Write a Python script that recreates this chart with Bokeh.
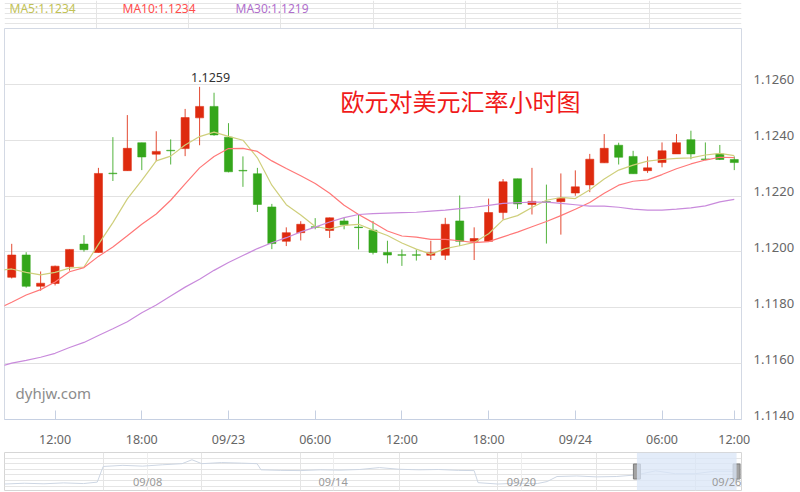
import numpy as np
from bokeh.plotting import figure
from bokeh.models import Range1d, FixedTicker, Label, BoxAnnotation, Grid
from bokeh.layouts import column
from bokeh.embed import file_html
from bokeh.resources import INLINE

# ---------------- data ----------------
tick_idx = [3, 9, 15, 21, 27, 33, 39, 45, 50]
tick_labels = ["12:00", "18:00", "09/23", "06:00", "12:00", "18:00", "09/24", "06:00", "12:00"]
y_ticks = [1.1140, 1.1160, 1.1180, 1.1200, 1.1220, 1.1240, 1.1260]
y_tick_labels = ["1.1140", "1.1160", "1.1180", "1.1200", "1.1220", "1.1240", "1.1260"]

opens = [1.11909, 1.11989, 1.11877, 1.11887, 1.11947, 1.12028, 1.11998, 1.12282, 1.12291, 1.12391,
         1.12350, 1.12364, 1.12370, 1.12480, 1.12521, 1.12411, 1.12292, 1.12280, 1.12161, 1.12038,
         1.12069, 1.12090, 1.12077, 1.12111, 1.12089, 1.12078, 1.11998, 1.11990, 1.11990, 1.11988,
         1.11988, 1.12111, 1.12038, 1.12038, 1.12141, 1.12262, 1.12170, 1.12180, 1.12180, 1.12211,
         1.12240, 1.12319, 1.12382, 1.12342, 1.12291, 1.12320, 1.12351, 1.12402, 1.12333, 1.12351,
         1.12331]
highs = [1.12029, 1.11999, 1.11930, 1.11951, 1.12009, 1.12060, 1.12301, 1.12411, 1.12490, 1.12391,
         1.12432, 1.12403, 1.12512, 1.12591, 1.12570, 1.12461, 1.12342, 1.12301, 1.12172, 1.12088,
         1.12110, 1.12121, 1.12123, 1.12122, 1.12134, 1.12111, 1.12040, 1.12009, 1.12009, 1.12040,
         1.12122, 1.12202, 1.12088, 1.12191, 1.12261, 1.12262, 1.12301, 1.12241, 1.12281, 1.12292,
         1.12351, 1.12422, 1.12391, 1.12362, 1.12342, 1.12392, 1.12422, 1.12434, 1.12392, 1.12383,
         1.12342]
lows = [1.11905, 1.11872, 1.11861, 1.11880, 1.11933, 1.12001, 1.11998, 1.12254, 1.12291, 1.12293,
        1.12325, 1.12313, 1.12343, 1.12382, 1.12416, 1.12285, 1.12233, 1.12143, 1.12010, 1.12021,
        1.12041, 1.12081, 1.12050, 1.12081, 1.12009, 1.11991, 1.11959, 1.11950, 1.11969, 1.11971,
        1.11971, 1.12021, 1.11971, 1.12038, 1.12116, 1.12154, 1.12134, 1.12030, 1.12062, 1.12201,
        1.12214, 1.12319, 1.12313, 1.12280, 1.12283, 1.12303, 1.12351, 1.12332, 1.12329, 1.12329,
        1.12293]
closes = [1.11989, 1.11877, 1.11888, 1.11949, 1.12009, 1.12008, 1.12281, 1.12280, 1.12371, 1.12340,
          1.12360, 1.12362, 1.12481, 1.12521, 1.12419, 1.12287, 1.12290, 1.12170, 1.12030, 1.12069,
          1.12099, 1.12088, 1.12122, 1.12097, 1.12087, 1.11998, 1.11989, 1.11988, 1.11988, 1.11997,
          1.12099, 1.12038, 1.12048, 1.12141, 1.12251, 1.12172, 1.12181, 1.12178, 1.12192, 1.12233,
          1.12332, 1.12371, 1.12339, 1.12280, 1.12301, 1.12362, 1.12391, 1.12351, 1.12331, 1.12331,
          1.12320]

# moving-average lines (first value = hour before the visible window)
ma_idx = list(range(-1, 51))
ma5 = [1.11933, 1.11939, 1.11927, 1.11918, 1.11927, 1.11942, 1.11946, 1.12027, 1.12105, 1.12190,
       1.12256, 1.12326, 1.12343, 1.12383, 1.12413, 1.12429, 1.12414, 1.12400, 1.12337, 1.12239,
       1.12169, 1.12132, 1.12091, 1.12082, 1.12095, 1.12099, 1.12078, 1.12059, 1.12032, 1.12010,
       1.11992, 1.12012, 1.12022, 1.12034, 1.12065, 1.12115, 1.12130, 1.12159, 1.12185, 1.12195,
       1.12191, 1.12223, 1.12261, 1.12293, 1.12311, 1.12325, 1.12331, 1.12335, 1.12337, 1.12347,
       1.12353, 1.12345]
ma10 = [1.11795, 1.11820, 1.11846, 1.11865, 1.11892, 1.11929, 1.11944, 1.11984, 1.12018, 1.12058,
        1.12099, 1.12136, 1.12185, 1.12244, 1.12301, 1.12342, 1.12370, 1.12371, 1.12360, 1.12326,
        1.12299, 1.12273, 1.12245, 1.12210, 1.12167, 1.12134, 1.12105, 1.12075, 1.12057, 1.12053,
        1.12045, 1.12045, 1.12040, 1.12033, 1.12037, 1.12054, 1.12071, 1.12090, 1.12109, 1.12130,
        1.12153, 1.12177, 1.12210, 1.12239, 1.12253, 1.12258, 1.12277, 1.12298, 1.12315, 1.12329,
        1.12339, 1.12338]
ma30 = [1.11587, 1.11602, 1.11612, 1.11623, 1.11637, 1.11658, 1.11676, 1.11701, 1.11725, 1.11750,
        1.11782, 1.11810, 1.11842, 1.11874, 1.11902, 1.11934, 1.11962, 1.11987, 1.12012, 1.12033,
        1.12051, 1.12072, 1.12089, 1.12107, 1.12123, 1.12134, 1.12137, 1.12139, 1.12141, 1.12142,
        1.12146, 1.12150, 1.12155, 1.12160, 1.12167, 1.12174, 1.12176, 1.12178, 1.12178, 1.12174,
        1.12169, 1.12164, 1.12164, 1.12160, 1.12153, 1.12150, 1.12150, 1.12153, 1.12158, 1.12165,
        1.12179, 1.12188]
legend_labels = ["MA5:1.1234", "MA10:1.1234", "MA30:1.1219"]

chart_title = "欧元对美元汇率小时图"
watermark = "dyhjw.com"

# overview (data-zoom strip): hourly index of the whole history and closes sampled along it
ov_idx = [0, 10, 20, 30, 40, 47, 50, 60, 70, 80, 90, 95, 100, 110, 120, 128, 130, 140, 150, 160,
          170, 180, 190, 200, 210, 220, 230, 238, 240, 250, 260, 270, 275, 280, 290, 300, 310, 320,
          330, 340, 350, 360, 370]
ov_close = [1.1118, 1.1125, 1.1120, 1.1128, 1.1122, 1.1135, 1.1275, 1.1285, 1.1278, 1.1290,
            1.1300, 1.1335, 1.1300, 1.1310, 1.1305, 1.1300, 1.1245, 1.1240, 1.1238, 1.1245,
            1.1242, 1.1248, 1.1265, 1.1250, 1.1245, 1.1248, 1.1240, 1.1238, 1.1130, 1.1118,
            1.1125, 1.1122, 1.1140, 1.1185, 1.1190, 1.1182, 1.1185, 1.1199, 1.1236, 1.1210,
            1.1210, 1.1233, 1.1232]
ov_dates_idx = [72.5, 166.5, 262, 366]
ov_dates = ["09/08", "09/14", "09/20", "09/26"]
win_start, win_end = 320.5, 371

RED, GREEN = "#de2a0e", "#34a61b"
C5, C10, C30 = "#cfcf7c", "#ff7878", "#c98bdc"
FONT = "Noto Sans"

# ---------------- legend strip ----------------
lg = figure(width=800, height=28, x_range=Range1d(0, 800), y_range=Range1d(0, 28),
            output_backend="svg", toolbar_location=None, title=None,
            x_axis_location=None, y_axis_location=None,
            min_border_left=0, min_border_right=0, min_border_top=0, min_border_bottom=0)
lg.outline_line_color = None
for lx, txt, col in zip([5, 118, 231], legend_labels, ["#c2c256", "#ff4d4d", "#b06fcc"]):
    lg.add_layout(Label(x=lx, y=20, x_units="screen", y_units="screen", text=txt,
                        text_baseline="middle", text_font=FONT, text_font_size="12px",
                        text_color=col))

# ---------------- main chart ----------------
idx = np.arange(len(opens))
o = np.array(opens); c = np.array(closes)
up = c > o
colors = [RED if u else GREEN for u in up]

p = figure(width=800, height=422, x_range=Range1d(-0.5, 50.5), y_range=Range1d(1.1140, 1.1280),
           output_backend="svg", toolbar_location=None, title=None, y_axis_location="right",
           min_border_left=4, min_border_right=59, min_border_top=0, min_border_bottom=26)
p.background_fill_color = "white"
p.border_fill_color = "white"
p.outline_line_color = "#d3d9e4"
p.xgrid.visible = False
p.ygrid.ticker = FixedTicker(ticks=y_ticks)
p.ygrid.grid_line_color = "#e2e2e2"

p.xaxis.ticker = FixedTicker(ticks=tick_idx)
p.xaxis.major_label_overrides = dict(zip(tick_idx, tick_labels))
p.xaxis.axis_line_color = "#c6d0e2"
p.xaxis.major_tick_line_color = "#c6d0e2"
p.xaxis.major_tick_in = 9
p.xaxis.major_tick_out = 0
p.xaxis.minor_tick_line_color = None
p.xaxis.major_label_standoff = 11
p.xaxis.major_label_text_font = FONT
p.xaxis.major_label_text_font_size = "12.5px"
p.xaxis.major_label_text_color = "#666666"

# price labels sit a few pixels above their grid lines, as in the original
label_lift = 0.00016
lifted = [round(t + label_lift, 6) for t in y_ticks]
p.yaxis.ticker = FixedTicker(ticks=lifted)
p.yaxis.major_label_overrides = dict(zip(lifted, y_tick_labels))
p.yaxis.axis_line_color = None
p.yaxis.major_tick_line_color = None
p.yaxis.minor_tick_line_color = None
p.yaxis.major_tick_in = 0
p.yaxis.major_tick_out = 0
p.yaxis.major_label_standoff = 12
p.yaxis.major_label_text_font = FONT
p.yaxis.major_label_text_font_size = "13px"
p.yaxis.major_label_text_color = "#666666"

# candles
p.segment(x0=idx, y0=lows, x1=idx, y1=highs, color=colors, line_width=1, line_alpha=0.85)
p.vbar(x=idx, width=0.56, top=np.maximum(o, c), bottom=np.minimum(o, c),
       fill_color=colors, line_color=colors, line_alpha=0.55, line_width=1)

# moving averages
p.line(ma_idx, ma5, color=C5, line_width=1.2)
p.line(ma_idx, ma10, color=C10, line_width=1.2)
p.line(ma_idx, ma30, color=C30, line_width=1.2)

# max label
imax = int(np.argmax(highs))
p.add_layout(Label(x=imax, y=highs[imax], text=f"{highs[imax]:.4f}", text_align="center",
                   text_baseline="bottom", x_offset=11, y_offset=5, text_font=FONT,
                   text_font_size="12.5px", text_color="#333333"))

# chart title and watermark (frame-relative screen units)
p.add_layout(Label(x=336, y=319, x_units="screen", y_units="screen", text=chart_title,
                   text_baseline="middle", text_font="Noto Sans CJK SC", text_font_size="24px",
                   text_color="#f01a1a"))
p.add_layout(Label(x=11, y=27, x_units="screen", y_units="screen", text=watermark,
                   text_baseline="middle", text_font=FONT, text_font_size="15px",
                   text_color="#8c8c8c"))

# ---------------- data-zoom strip ----------------
s = figure(width=800, height=42, x_range=Range1d(0, 373.5), y_range=Range1d(1.1060, 1.1400),
           output_backend="svg", toolbar_location=None, title=None,
           x_axis_location=None, y_axis_location=None,
           min_border_left=4, min_border_right=54, min_border_top=2, min_border_bottom=2)
s.background_fill_color = "white"
s.border_fill_color = "white"
s.outline_line_color = "#d6d6d6"
s.add_layout(Grid(dimension=0, ticker=FixedTicker(ticks=ov_dates_idx[:3]), grid_line_color="#eeeeee"))
s.line(ov_idx, ov_close, color="#cdd6e3", line_width=1)
s.add_layout(BoxAnnotation(left=win_start, right=win_end, fill_color="#d9e6f7", fill_alpha=0.75,
                           line_alpha=0))
for dx, dt in zip(ov_dates_idx, ov_dates):
    s.add_layout(Label(x=dx, y=9, x_units="data", y_units="screen", text=dt, text_align="center",
                       text_baseline="middle", text_font=FONT, text_font_size="11px",
                       text_color="#9a9a9a"))
s.rect(x=[win_start, win_end], y=[1.1230, 1.1230], width=7, height=15,
       width_units="screen", height_units="screen", fill_color="#a3a3a3", line_color="#7d7d7d")

layout = column(lg, p, s, spacing=0)

open("out.html", "w").write(file_html(layout, INLINE))
